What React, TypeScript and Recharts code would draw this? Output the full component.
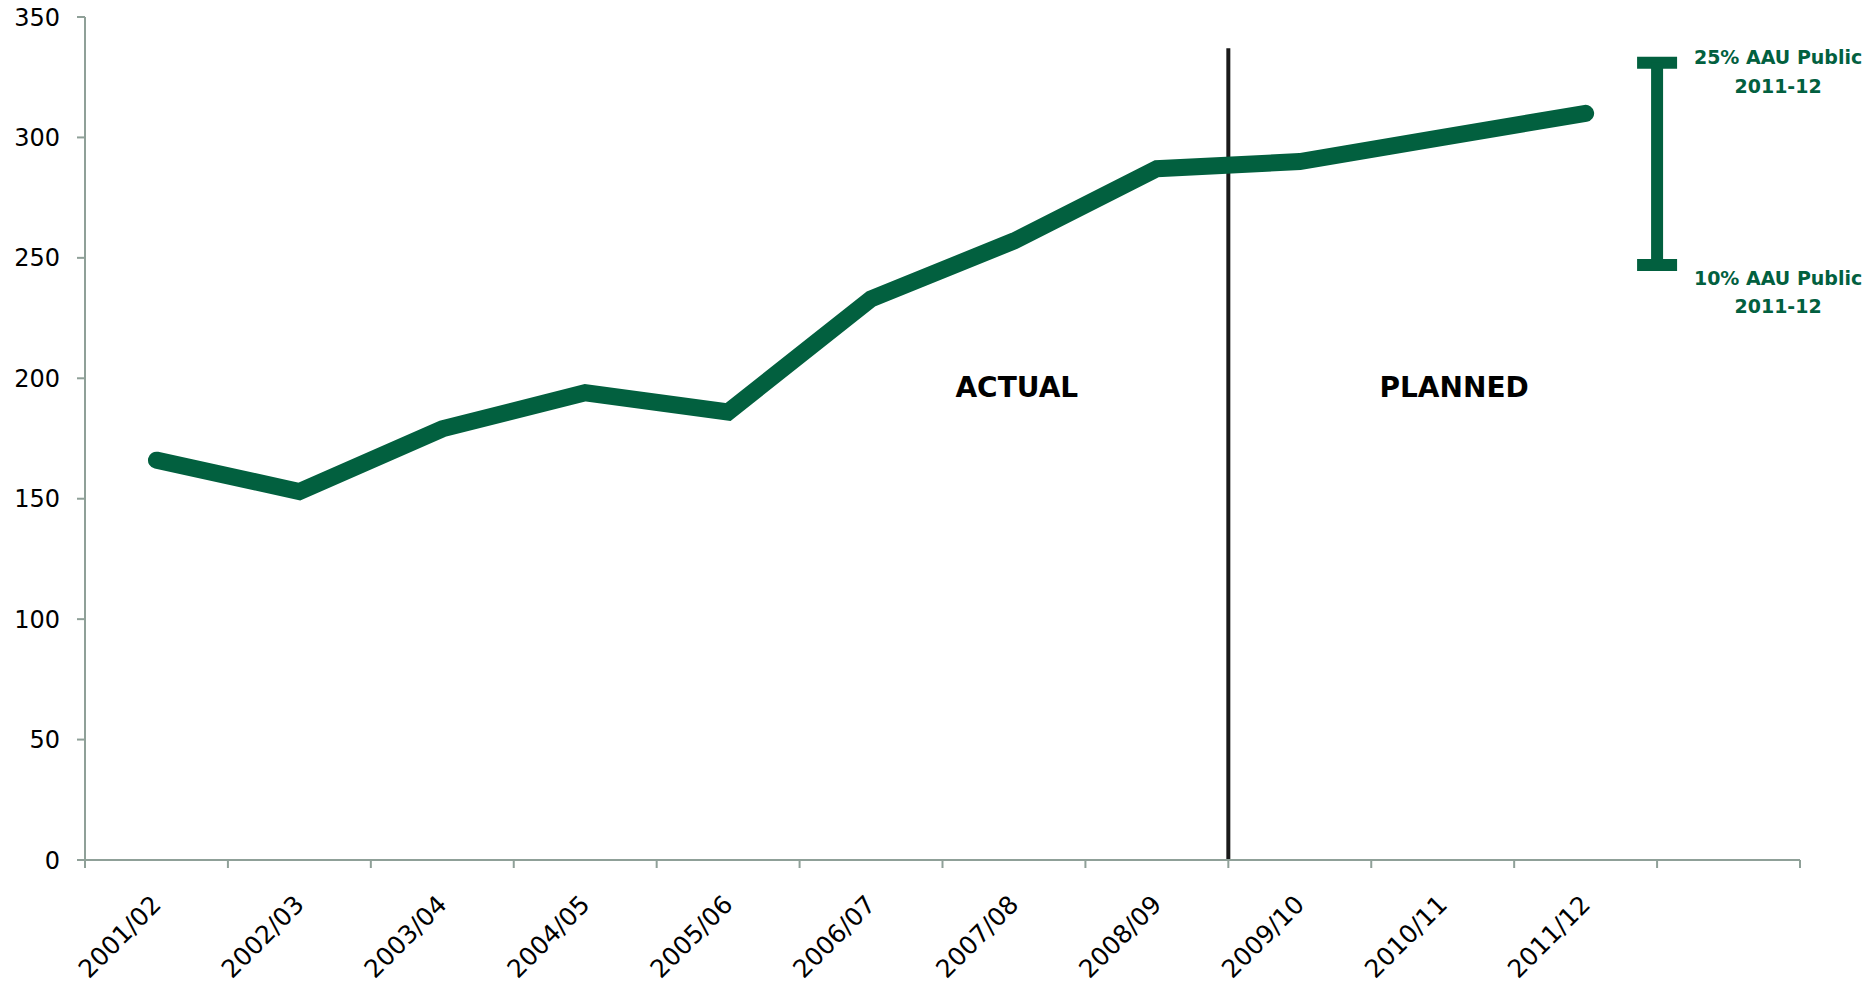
import React from "react";
import {
  ComposedChart,
  Line,
  Scatter,
  ErrorBar,
  XAxis,
  YAxis,
  ReferenceLine,
  ReferenceDot,
} from "recharts";

// fiscal years on the x axis (last band is left empty)
const years = [
  "2001/02",
  "2002/03",
  "2003/04",
  "2004/05",
  "2005/06",
  "2006/07",
  "2007/08",
  "2008/09",
  "2009/10",
  "2010/11",
  "2011/12",
  "",
];
const values = [166, 153, 179, 194, 186, 233, 257, 287, 290, 300, 310];
const yTicks = [0, 50, 100, 150, 200, 250, 300, 350];
// 10% and 25% AAU public, 2011-12
const aauRange = [247, 331];
const aauTop = ["25% AAU Public", "2011-12"];
const aauBottom = ["10% AAU Public", "2011-12"];
const plannedStart = 8;

const GREEN = "#02603f";
const AXIS = "#8fa098";
const FONT = "DejaVu Sans";

const W = 1864;
const H = 984;
const M = { top: 17, right: 64, bottom: 0, left: 0 };
const Y_AXIS_W = 85;
const HALF_BAND = (W - M.right - Y_AXIS_W) / years.length / 2;

const rows = values.map((v, i) => ({ x: i + 0.5, v }));
const xTicks = years.map((_, i) => i).concat(years.length);
const aauPoint = [
  {
    x: years.length - 1,
    v: (aauRange[0] + aauRange[1]) / 2,
    err: (aauRange[1] - aauRange[0]) / 2,
  },
];

const YearTick = (props: any) => {
  const { x, y, payload } = props;
  const label = years[payload.value];
  if (!label) return null;
  const tx = x + HALF_BAND + 6;
  const ty = y + 38;
  return (
    <text
      x={tx}
      y={ty}
      transform={`rotate(-45 ${tx} ${ty})`}
      textAnchor="end"
      fontFamily={FONT}
      fontSize={25}
      fill="#000"
    >
      {label}
    </text>
  );
};

const twoLines = (lines: string[], dy1: number, dy2: number) => (props: any) => {
  const { viewBox } = props;
  const cx = viewBox.x + 121;
  return (
    <g>
      <text
        x={cx}
        y={viewBox.y + dy1}
        textAnchor="middle"
        dominantBaseline="central"
        fontFamily={FONT}
        fontWeight="bold"
        fontSize={19}
        fill={GREEN}
      >
        {lines[0]}
      </text>
      <text
        x={cx}
        y={viewBox.y + dy2}
        textAnchor="middle"
        dominantBaseline="central"
        fontFamily={FONT}
        fontWeight="bold"
        fontSize={19}
        fill={GREEN}
      >
        {lines[1]}
      </text>
    </g>
  );
};

const phaseLabel = (text: string) => (props: any) => {
  const { viewBox } = props;
  return (
    <text
      x={viewBox.x}
      y={viewBox.y}
      textAnchor="middle"
      dominantBaseline="central"
      fontFamily={FONT}
      fontWeight="bold"
      fontSize={28}
      fill="#000"
    >
      {text}
    </text>
  );
};

export default function App() {
  return (
    <div
      style={{
        position: "absolute",
        top: 0,
        left: 0,
        width: W,
        height: H,
        background: "#fff",
      }}
    >
      <ComposedChart width={W} height={H} data={rows} margin={M}>
        <XAxis
          dataKey="x"
          type="number"
          domain={[0, years.length]}
          ticks={xTicks}
          interval={0}
          height={H - M.top - 843}
          stroke={AXIS}
          strokeWidth={2}
          tickSize={8}
          tickMargin={0}
          tick={<YearTick />}
        />
        <YAxis
          dataKey="v"
          type="number"
          domain={[0, 350]}
          ticks={yTicks}
          interval={0}
          width={Y_AXIS_W}
          stroke={AXIS}
          strokeWidth={2}
          tickSize={8}
          tickMargin={17}
          tick={{ fill: "#000", fontSize: 24, fontFamily: FONT }}
        />
        <ReferenceLine
          segment={[
            { x: plannedStart, y: 0 },
            { x: plannedStart, y: 337 },
          ]}
          stroke="#1a1a1a"
          strokeWidth={4}
        />
        <Line
          type="linear"
          dataKey="v"
          stroke={GREEN}
          strokeWidth={17}
          strokeLinecap="round"
          strokeLinejoin="miter"
          dot={false}
          activeDot={false}
          isAnimationActive={false}
        />
        <Scatter
          data={aauPoint}
          dataKey="v"
          shape={() => <g />}
          isAnimationActive={false}
        >
          <ErrorBar
            dataKey="err"
            direction="y"
            width={20}
            stroke={GREEN}
            strokeWidth={12}
            isAnimationActive={false}
          />
        </Scatter>
        <ReferenceDot
          x={6.52}
          y={196}
          r={0}
          stroke="none"
          label={phaseLabel("ACTUAL")}
        />
        <ReferenceDot
          x={9.58}
          y={196}
          r={0}
          stroke="none"
          label={phaseLabel("PLANNED")}
        />
        <ReferenceDot
          x={years.length - 1}
          y={aauRange[1]}
          r={0}
          stroke="none"
          label={twoLines(aauTop, -6, 23)}
        />
        <ReferenceDot
          x={years.length - 1}
          y={aauRange[0]}
          r={0}
          stroke="none"
          label={twoLines(aauBottom, 13, 41)}
        />
      </ComposedChart>
    </div>
  );
}
